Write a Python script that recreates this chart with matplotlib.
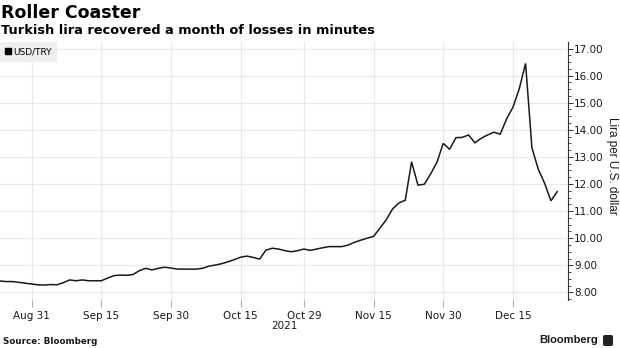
import matplotlib
matplotlib.use("Agg")
import matplotlib.pyplot as plt
import matplotlib.lines as mlines
from matplotlib.patches import FancyBboxPatch
import numpy as np
import pandas as pd

# ── Data ──────────────────────────────────────────────────────────────────────

# daily close, one value per business day from Aug 24 to Dec 24, 2021
START, END = "2021-08-24", "2021-12-24"
USD_TRY = [
    8.42, 8.40, 8.40, 8.37, 8.34, 8.31, 8.28, 8.27, 8.29, 8.28, 8.36,
    8.46, 8.43, 8.46, 8.43, 8.43, 8.43, 8.53, 8.62, 8.64, 8.63,
    8.66, 8.80, 8.89, 8.83, 8.89, 8.93, 8.90, 8.86, 8.86, 8.86, 8.86,
    8.89, 8.97, 9.01, 9.06, 9.13, 9.21, 9.30, 9.34, 9.29, 9.23,
    9.56, 9.63, 9.60, 9.54, 9.50, 9.54, 9.60, 9.55, 9.60, 9.65,
    9.69, 9.69, 9.69, 9.75, 9.85, 9.93, 10.00, 10.07, 10.37,
    10.68, 11.08, 11.30, 11.40, 12.82, 11.96, 11.99, 12.37, 12.80, 13.50,
    13.28, 13.71, 13.72, 13.81, 13.52, 13.69, 13.81, 13.91, 13.84, 14.40,
    14.83, 15.51, 16.45, 13.34, 12.55, 12.03, 11.38, 11.72,
]

TICK_DATES = ["2021-08-31", "2021-09-15", "2021-09-30", "2021-10-15",
              "2021-10-29", "2021-11-15", "2021-11-30", "2021-12-15"]
Y_TICKS = [8, 9, 10, 11, 12, 13, 14, 15, 16, 17]

TITLE = "Roller Coaster"
SUBTITLE = "Turkish lira recovered a month of losses in minutes"
SERIES = "USD/TRY"
Y_LABEL = "Lira per U.S. dollar"
YEAR = "2021"
SOURCE = "Source: Bloomberg"

LINE_COLOR = "#1a1a1a"
GRID_COLOR = "#e9e9e9"
TEXT_COLOR = "#1a1a1a"

# ── Figure ────────────────────────────────────────────────────────────────────

W, H = 620, 348
fig = plt.figure(figsize=(W / 100, H / 100), dpi=100)
fig.patch.set_facecolor("white")

# axes box in pixels: x 0..568, y 42..300
ax = fig.add_axes([0, 1 - 300 / H, 568 / W, (300 - 42) / H])

dates = pd.bdate_range(START, END)
x = np.arange(len(dates))
ax.plot(x, USD_TRY, color=LINE_COLOR, linewidth=1.1, solid_joinstyle="miter", zorder=3)

tick_pos = [dates.get_loc(pd.Timestamp(d)) for d in TICK_DATES]
tick_lab = [f"{pd.Timestamp(d):%b} {pd.Timestamp(d).day}" for d in TICK_DATES]

ax.set_xlim(0, 89.7)
ax.set_ylim(7.72, 17.24)

ax.set_xticks(tick_pos)
ax.set_xticklabels(tick_lab)
ax.set_yticks(Y_TICKS)
ax.set_yticklabels([f"{v:.2f}" for v in Y_TICKS])
ax.set_yticks(np.arange(7.75, 17.25, 0.25), minor=True)

ax.yaxis.tick_right()
ax.grid(True, which="major", color=GRID_COLOR, linewidth=0.8, zorder=0)
ax.set_axisbelow(True)

for side in ("left", "top", "bottom"):
    ax.spines[side].set_visible(False)
ax.spines["right"].set_color("#333333")
ax.spines["right"].set_linewidth(0.8)

ax.tick_params(axis="x", length=5, width=0.7, color="#aaaaaa", pad=3,
               labelsize=7.5, labelcolor=TEXT_COLOR)
ax.tick_params(axis="y", which="major", length=3.5, width=0.7, color="#333333",
               pad=1, labelsize=7.5, labelcolor=TEXT_COLOR)
ax.tick_params(axis="y", which="minor", length=1.8, width=0.6, color="#333333")

# series key in the top-left corner
key = mlines.Line2D([], [], marker="s", color="black", linestyle="none",
                    markersize=4, label=SERIES)
leg = ax.legend(handles=[key], loc="upper left", bbox_to_anchor=(0, 1),
                borderaxespad=0, fontsize=6.5, frameon=True, fancybox=False,
                handlelength=0.6, handletextpad=0.3, borderpad=0.6)
leg.get_frame().set_facecolor("#efefef")
leg.get_frame().set_edgecolor("none")
leg.get_frame().set_alpha(1)

# ── Text ──────────────────────────────────────────────────────────────────────

fig.text(1 / W, 1 - 13 / H, TITLE, fontsize=12.5, fontweight="bold",
         color="black", va="center", ha="left")
fig.text(1 / W, 1 - 31 / H, SUBTITLE, fontsize=9.3, fontweight="bold",
         color="black", va="center", ha="left")

fig.text(612 / W, 1 - 166 / H, Y_LABEL, fontsize=8.5, family="Liberation Sans",
         color=TEXT_COLOR, rotation=270, va="center", ha="center")
fig.text(284 / W, 1 - 326 / H, YEAR, fontsize=7.5, color=TEXT_COLOR,
         va="center", ha="center")

fig.text(3 / W, 1 - 341 / H, SOURCE, fontsize=6.3, fontweight="bold",
         color=TEXT_COLOR, va="center", ha="left")
fig.text(598 / W, 1 - 340 / H, "Bloomberg", fontsize=8, fontweight="bold",
         family="Liberation Sans", color=TEXT_COLOR, va="center", ha="right")
fig.patches.append(FancyBboxPatch((603 / W, 1 - 346 / H), 10 / W, 11 / H,
                                  boxstyle="round,pad=0,rounding_size=0.004",
                                  transform=fig.transFigure, facecolor="#222222",
                                  edgecolor="none"))

fig.savefig("out.png", dpi=100)
